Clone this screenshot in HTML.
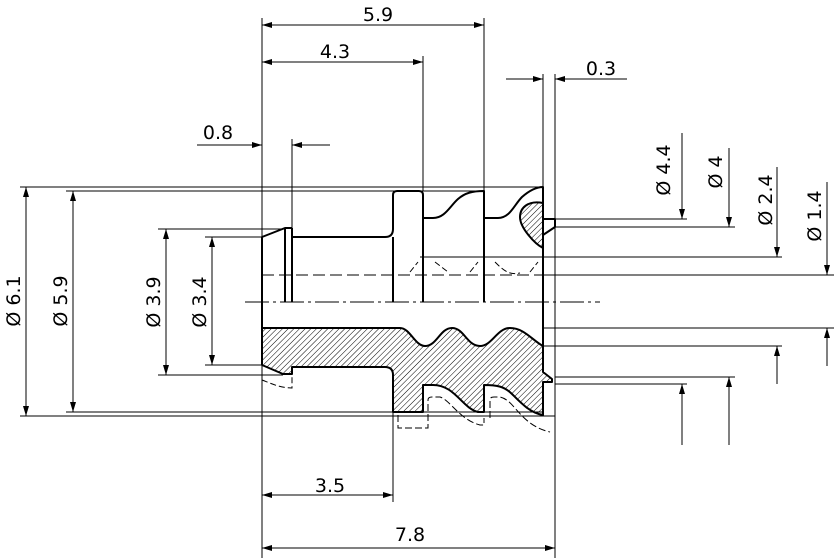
<!DOCTYPE html>
<html><head><meta charset="utf-8"><style>
html,body{margin:0;padding:0;background:#fff}
svg{display:block}
text{font-family:"DejaVu Sans","Liberation Sans",sans-serif;font-size:19px;fill:#000}
</style></head><body>
<svg width="834" height="558" viewBox="0 0 834 558" xmlns="http://www.w3.org/2000/svg">
<defs>
<pattern id="h" patternUnits="userSpaceOnUse" width="4" height="4" patternTransform="rotate(45)">
<line x1="0" y1="0" x2="0" y2="4" stroke="#000" stroke-width="1"/>
</pattern>
<marker id="a" viewBox="0 0 10 6" refX="10" refY="3" markerWidth="17" markerHeight="6" markerUnits="userSpaceOnUse" orient="auto-start-reverse">
<path d="M0,0 L10,3 L0,6 Z" fill="#000"/>
</marker>
</defs>
<g stroke="#000" stroke-width="1" fill="none">
<line x1="262" y1="18" x2="262" y2="558"/>
<line x1="484" y1="18" x2="484" y2="191"/>
<line x1="423" y1="56" x2="423" y2="191"/>
<line x1="543" y1="74" x2="543" y2="187"/>
<line x1="555" y1="74" x2="555" y2="558"/>
<line x1="292" y1="139" x2="292" y2="228"/>
<line x1="393" y1="412" x2="393" y2="502"/>
<line x1="20" y1="187" x2="543" y2="187"/>
<line x1="66" y1="191" x2="484" y2="191"/>
<line x1="20" y1="416" x2="555" y2="416"/>
<line x1="66" y1="412" x2="543" y2="412"/>
<line x1="158" y1="229" x2="285" y2="229"/>
<line x1="158" y1="375" x2="283" y2="375"/>
<line x1="205" y1="237" x2="262" y2="237"/>
<line x1="205" y1="365" x2="262" y2="365"/>
<line x1="543" y1="219" x2="687" y2="219"/>
<line x1="555" y1="227" x2="735" y2="227"/>
<line x1="420" y1="257" x2="782" y2="257"/>
<line x1="543" y1="275" x2="834" y2="275"/>
<line x1="543" y1="328" x2="834" y2="328"/>
<line x1="543" y1="346" x2="782" y2="346"/>
<line x1="555" y1="377" x2="735" y2="377"/>
<line x1="555" y1="384" x2="687" y2="384"/>
<line x1="262" y1="25" x2="484" y2="25" marker-start="url(#a)" marker-end="url(#a)"/>
<line x1="262" y1="62" x2="423" y2="62" marker-start="url(#a)" marker-end="url(#a)"/>
<line x1="506" y1="79" x2="543" y2="79" marker-end="url(#a)"/>
<line x1="627" y1="79" x2="555" y2="79" marker-end="url(#a)"/>
<line x1="197" y1="145" x2="262" y2="145" marker-end="url(#a)"/>
<line x1="330" y1="145" x2="292" y2="145" marker-end="url(#a)"/>
<line x1="262" y1="495" x2="393" y2="495" marker-start="url(#a)" marker-end="url(#a)"/>
<line x1="262" y1="548" x2="555" y2="548" marker-start="url(#a)" marker-end="url(#a)"/>
<line x1="26" y1="187" x2="26" y2="416" marker-start="url(#a)" marker-end="url(#a)"/>
<line x1="73" y1="191" x2="73" y2="412" marker-start="url(#a)" marker-end="url(#a)"/>
<line x1="166" y1="229" x2="166" y2="375" marker-start="url(#a)" marker-end="url(#a)"/>
<line x1="212" y1="237" x2="212" y2="365" marker-start="url(#a)" marker-end="url(#a)"/>
<line x1="682" y1="133" x2="682" y2="219" marker-end="url(#a)"/>
<line x1="729" y1="148" x2="729" y2="227" marker-end="url(#a)"/>
<line x1="777" y1="167" x2="777" y2="257" marker-end="url(#a)"/>
<line x1="827" y1="182" x2="827" y2="275" marker-end="url(#a)"/>
<line x1="827" y1="366" x2="827" y2="328" marker-end="url(#a)"/>
<line x1="777" y1="384" x2="777" y2="346" marker-end="url(#a)"/>
<line x1="729" y1="445" x2="729" y2="377" marker-end="url(#a)"/>
<line x1="682" y1="445" x2="682" y2="384" marker-end="url(#a)"/>
<line x1="245" y1="302" x2="600" y2="302" stroke-dasharray="24,4,3,4"/>
<line x1="262" y1="275" x2="543" y2="275" stroke-dasharray="12,5"/>
<path d="M410,272 L418,262 M435,262 L448,272 M470,272 L478,262 M495,262 C505,272 510,275 520,273 M530,272 L538,262" stroke-dasharray="6,3"/>
<path d="M262,380 C270,383 280,388 292,388 L292,376" stroke-dasharray="6,3"/>
<path d="M398,415 L398,428 L428,428 L428,400 Q428,397 432,397 L440,397 C450,400 460,420 480,425 L484,425 L484,418" stroke-dasharray="7,3"/>
<path d="M490,418 L490,400 Q490,397 494,397 L500,397 C515,400 520,425 550,432" stroke-dasharray="7,3"/>
</g>
<g stroke="#000" stroke-width="2" fill="none" stroke-linejoin="round">
<path d="M262,365 L262,237 L285,228 L292,228 M285,228 L285,302 M292,228 L292,302"/>
<path d="M292,237 L385,237 Q393,237 393,229 L393,195 Q393,191 397,191 L419,191 Q423,191 423,195 L423,302"/>
<path d="M393,237 L393,302"/>
<path d="M423,218 L433,218 C445,218 450,206 458,199 C465,193 472,191 484,191 L484,302"/>
<path d="M484,218 L498,218 C510,218 514,205 522,197 C530,190 537,187 543,187 L543,346"/>
<path d="M543,219 L555,219 L555,227 L543,235"/>
<path d="M543,203 C528,200 520,208 520,217 C520,228 535,244 543,248 Z" fill="url(#h)"/>
<path d="M262,328 L400,328 C410,328 415,346 425,346 C437,346 440,328 452,328 C464,328 467,346 480,346 C492,346 497,328 510,328 C524,328 532,340 543,346 L543,372 L552,379 L552,382 L543,382 L543,415 C530,413 520,402 512,394 C504,386 496,385 484,385 L484,412 L478,412 C462,408 455,385 433,385 L423,385 L423,412 L393,412 L393,375 Q393,367 385,367 L292,367 L292,374 L283,374 L262,365 Z" fill="url(#h)"/>
</g>
<text x="378" y="21" text-anchor="middle">5.9</text>
<text x="335" y="58" text-anchor="middle">4.3</text>
<text x="601" y="75" text-anchor="middle">0.3</text>
<text x="218" y="139" text-anchor="middle">0.8</text>
<text x="330" y="492" text-anchor="middle">3.5</text>
<text x="410" y="541" text-anchor="middle">7.8</text>
<text transform="translate(20,301) rotate(-90)" text-anchor="middle">Ø 6.1</text>
<text transform="translate(67,301) rotate(-90)" text-anchor="middle">Ø 5.9</text>
<text transform="translate(160,302) rotate(-90)" text-anchor="middle">Ø 3.9</text>
<text transform="translate(206,302) rotate(-90)" text-anchor="middle">Ø 3.4</text>
<text transform="translate(670,170) rotate(-90)" text-anchor="middle">Ø 4.4</text>
<text transform="translate(722,172) rotate(-90)" text-anchor="middle">Ø 4</text>
<text transform="translate(772,200) rotate(-90)" text-anchor="middle">Ø 2.4</text>
<text transform="translate(821,216) rotate(-90)" text-anchor="middle">Ø 1.4</text>
</svg>
</body></html>
